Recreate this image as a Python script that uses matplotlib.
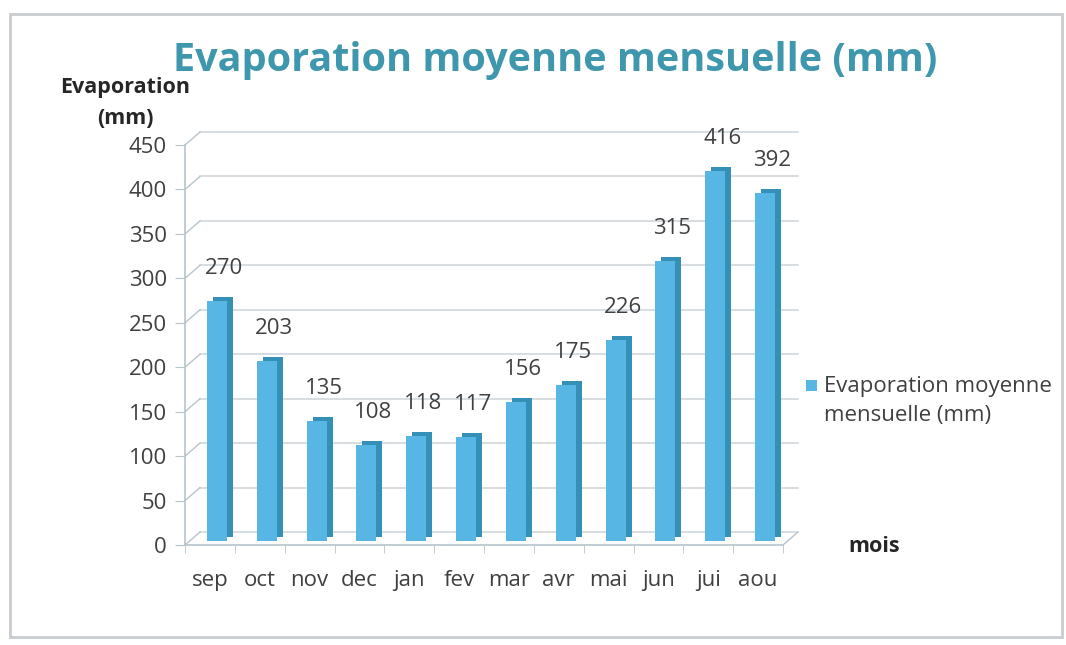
import matplotlib
matplotlib.use("Agg")
import matplotlib.pyplot as plt
from matplotlib import transforms
from matplotlib.lines import Line2D
from matplotlib.patches import Rectangle

months = ["sep", "oct", "nov", "dec", "jan", "fev", "mar", "avr", "mai", "jun", "jui", "aou"]
evaporation = [270, 203, 135, 108, 118, 117, 156, 175, 226, 315, 416, 392]
y_ticks = [0, 50, 100, 150, 200, 250, 300, 350, 400, 450]
series_name = "Evaporation moyenne\nmensuelle (mm)"

W, H = 1066, 645
fig = plt.figure(figsize=(W / 100, H / 100), dpi=100)
fig.patch.set_facecolor("white")

# frame
fig.add_artist(Rectangle((10 / W, 8 / H), 1052 / W, (H - 22) / H, transform=fig.transFigure,
                         fill=False, edgecolor="#c8ccd0", linewidth=2.0))

front_col = "#58B6E4"
side_col = "#3590B8"
grid_col = "#cdd3d8"
axis_col = "#b8c4cc"
text_col = "#404040"

DX, DY = 15, 13  # back wall offset in pixels
left, bottom, width, height = 185, 100, 598, 400

ax_back = fig.add_axes([(left + DX) / W, (bottom + DY) / H, width / W, height / H])
ax_back.set_xlim(-0.5, 11.5)
ax_back.set_ylim(0, 450)
ax_back.axis("off")
for v in y_ticks:
    ax_back.plot([-0.5, 11.5], [v, v], color=grid_col, lw=1.1, clip_on=False)

ax = fig.add_axes([left / W, bottom / H, width / W, height / H])
ax.patch.set_alpha(0)
ax.set_xlim(-0.5, 11.5)
ax.set_ylim(0, 450)
for s in ["top", "right"]:
    ax.spines[s].set_visible(False)
for s in ["left", "bottom"]:
    ax.spines[s].set_color(axis_col)
    ax.spines[s].set_linewidth(1.2)

x = list(range(len(months)))
bw = 0.4
front_tr = transforms.offset_copy(ax.transData, fig, x=7, y=4, units="dots")
side_tr = transforms.offset_copy(ax.transData, fig, x=13, y=8, units="dots")
ax.bar(x, evaporation, width=bw, color=side_col, transform=side_tr, zorder=2)
ax.bar(x, evaporation, width=bw, color=front_col, transform=front_tr, zorder=3)

for xi, v in zip(x, evaporation):
    ax.annotate(str(v), (xi, v), xytext=(14, 26), textcoords="offset pixels",
                ha="center", va="bottom", fontsize=16, color=text_col, family="Open Sans")

ax.set_yticks(y_ticks)
ax.set_yticklabels([str(v) for v in y_ticks], fontsize=16, color=text_col, family="Open Sans")
ax.tick_params(axis="y", length=7, color=axis_col, pad=6)
ax.set_xticks(x)
ax.set_xticklabels(months, fontsize=16, color=text_col, family="Open Sans")
ax.tick_params(axis="x", length=0, pad=18)
ax.set_xticks([i - 0.5 for i in range(len(months) + 1)], minor=True)
ax.tick_params(axis="x", which="minor", length=6, color=axis_col)

# diagonal connectors between front axes and back wall
for v in y_ticks:
    p = ax.transData.transform((-0.5, v))
    fig.add_artist(Line2D([p[0], p[0] + DX], [p[1], p[1] + DY], transform=transforms.IdentityTransform(),
                          color=axis_col, lw=1.0))
p = ax.transData.transform((11.5, 0))
fig.add_artist(Line2D([p[0], p[0] + DX], [p[1], p[1] + DY], transform=transforms.IdentityTransform(),
                      color=axis_col, lw=1.0))

fig.text(555 / W, 1 - 60 / H, "Evaporation moyenne mensuelle (mm)", ha="center", va="center",
         fontsize=28.5, fontweight="bold", color="#3F97AD", family="Open Sans")
fig.text(125 / W, 1 - 87 / H, "Evaporation", ha="center", va="center", fontsize=15.5,
         fontweight="bold", color="#262626", family="Open Sans")
fig.text(125 / W, 1 - 118 / H, "(mm)", ha="center", va="center", fontsize=15.5,
         fontweight="bold", color="#262626", family="Open Sans")
fig.text(874 / W, 1 - 546 / H, "mois", ha="center", va="center", fontsize=15.5,
         fontweight="bold", color="#262626", family="Open Sans")

# legend
fig.add_artist(Rectangle((806 / W, 1 - 391 / H), 11 / W, 11 / H, transform=fig.transFigure,
                         facecolor=front_col, edgecolor="none"))
fig.text(824 / W, 1 - 401 / H, series_name, ha="left", va="center", fontsize=16,
         color=text_col, family="Open Sans", linespacing=1.45)

fig.savefig("out.png", dpi=100)
